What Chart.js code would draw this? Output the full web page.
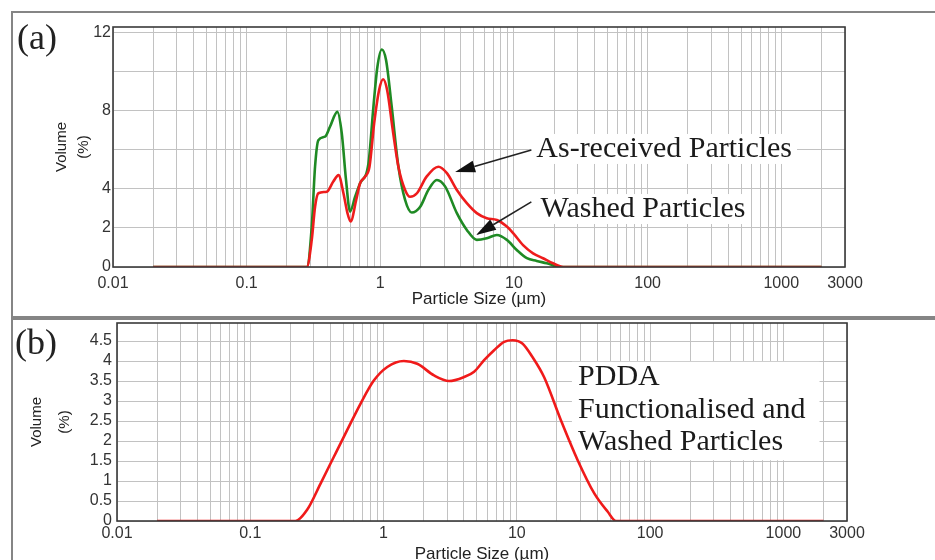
<!DOCTYPE html>
<html>
<head>
<meta charset="utf-8">
<script src="https://cdn.jsdelivr.net/npm/chart.js@4.4.0/dist/chart.umd.min.js"></script>
<style>
  html,body{margin:0;padding:0;background:#fff;}
  body{width:935px;height:560px;overflow:hidden;position:relative;font-family:"Liberation Sans",Arial,sans-serif;}
  .frame{position:absolute;border:2px solid #858585;border-right:none;box-sizing:border-box;}
  #frameA{left:11px;top:11px;width:940px;height:307px;}
  #frameB{left:11px;top:318px;width:940px;height:260px;border-bottom:none;}
  .plabel{position:absolute;font-family:"Liberation Serif","Times New Roman",serif;font-size:36px;line-height:36px;color:#222;}
  #labA{left:17px;top:19px;}
  #labB{left:15px;top:324px;}
  #wrapA{position:absolute;left:0;top:0;}
  #wrapB{position:absolute;left:0;top:307px;}
</style>
</head>
<body>
<div class="frame" id="frameA"></div>
<div class="frame" id="frameB"></div>
<div id="wrapA"><canvas id="chartA" width="935" height="317"></canvas></div>
<div id="wrapB"><canvas id="chartB" width="935" height="260"></canvas></div>
<div class="plabel" id="labA">(a)</div>
<div class="plabel" id="labB">(b)</div>
<script>
// ---------------- data ----------------
const asReceivedSize = [0.02, 0.282, 0.307, 0.325, 0.344, 0.398, 0.445, 0.487, 0.53, 0.568,
  0.60, 0.66, 0.706, 0.77, 0.83, 0.90, 0.98, 1.05, 1.125, 1.24,
  1.366, 1.533, 1.67, 1.88, 2.22, 2.72, 3.15, 3.74, 4.44, 5.27,
  6.26, 7.45, 8.85, 9.9, 11.7, 13.9, 16.5, 19.6, 23.4, 2000];
const asReceivedVolume = [0, 0, 1.39, 3.09, 3.78, 3.86, 4.38, 4.71, 3.78, 2.76,
  2.33, 3.44, 4.29, 4.63, 5.14, 7.37, 9.07, 9.62, 9.07, 7.02,
  5.14, 3.95, 3.60, 3.78, 4.63, 5.14, 4.81, 3.95, 3.27, 2.76,
  2.50, 2.41, 2.07, 1.72, 1.12, 0.70, 0.45, 0.19, 0, 0];

const washedSize = [0.02, 0.282, 0.307, 0.325, 0.344, 0.386, 0.421, 0.477, 0.515, 0.554,
  0.594, 0.648, 0.706, 0.815, 0.888, 0.951, 1.026, 1.105, 1.218, 1.366,
  1.533, 1.72, 1.99, 2.29, 2.65, 3.06, 3.74, 4.44, 5.27, 6.26,
  7.45, 8.85, 10.5, 12.5, 14.8, 17.6, 22.2, 2000];
const washedVolume = [0, 0, 2.07, 5.15, 6.50, 6.68, 7.20, 7.95, 6.85, 4.46,
  2.84, 3.60, 4.29, 5.30, 8.20, 10.25, 11.15, 10.6, 8.20, 5.15,
  3.44, 2.79, 3.09, 3.95, 4.46, 4.12, 2.76, 1.90, 1.39, 1.47,
  1.64, 1.39, 0.87, 0.45, 0.31, 0.19, 0, 0];

const pddaSize = [0.02, 0.218, 0.267, 0.336, 0.423, 0.533, 0.671, 0.845, 1.066, 1.42,
  1.79, 2.39, 3.1, 4.02, 4.78, 5.68, 6.75, 8.03, 9.29, 11.0,
  13.1, 16.0, 21.4, 28.6, 38.1, 48.1, 55.5, 2000];
const pddaVolume = [0, 0, 0.28, 0.93, 1.6, 2.27, 2.93, 3.51, 3.85, 4.0,
  3.93, 3.64, 3.5, 3.6, 3.73, 4.02, 4.27, 4.48, 4.52, 4.44,
  4.1, 3.6, 2.52, 1.52, 0.69, 0.23, 0, 0];

// ---------------- tick labels ----------------
const xTickLabels = [0.01, 0.1, 1, 10, 100, 1000, 3000];
const xDecades = [0.01, 0.1, 1, 10, 100, 1000];
const xMultipliers = [1, 2, 3, 4, 5, 6, 7, 8, 9];
const yTicksA = [0, 2, 4, 6, 8, 10, 12];
const yLabelsA = [0, 2, 4, 8, 12];
const yTicksB = [0, 0.5, 1, 1.5, 2, 2.5, 3, 3.5, 4, 4.5];

// ---------------- helpers ----------------
const X_MIN = 0.01, X_MAX = 3000;
const xGridValues = [];
xDecades.forEach(d => xMultipliers.forEach(m => {
  const v = +(d * m).toPrecision(6);
  if (v <= X_MAX && !xGridValues.includes(v)) xGridValues.push(v);
}));
if (!xGridValues.includes(X_MAX)) xGridValues.push(X_MAX);
const near = (a, b) => Math.abs(a - b) <= 1e-9 * Math.max(1, Math.abs(b));
const toPoints = (xs, ys) => xs.map((v, i) => ({x: v, y: ys[i]}));

const SANS = "'Liberation Sans', Arial, sans-serif";
const SERIF = "'Liberation Serif', 'Times New Roman', serif";
const GRID = '#c2c2c2';

const decor = {
  id: 'decor',
  beforeDatasetsDraw(chart, args, o) {
    const {ctx, scales: {x, y}} = chart;
    ctx.save();
    ctx.fillStyle = '#fff';
    (o.boxes || []).forEach(b => {
      const x0 = x.getPixelForValue(b.x0), x1 = x.getPixelForValue(b.x1);
      const y0 = y.getPixelForValue(b.y0), y1 = y.getPixelForValue(b.y1);
      ctx.fillRect(Math.min(x0, x1), Math.min(y0, y1), Math.abs(x1 - x0), Math.abs(y1 - y0));
    });
    ctx.font = o.font;
    (o.texts || []).forEach(t => {
      if (!t.bg) return;
      const px = x.getPixelForValue(t.x), py = y.getPixelForValue(t.y);
      const w = ctx.measureText(t.text).width;
      ctx.fillRect(px - 5, py - 15, w + 10, 30);
    });
    ctx.restore();
  },
  afterDatasetsDraw(chart, args, o) {
    const {ctx, scales: {x, y}} = chart;
    ctx.save();
    ctx.font = o.font;
    ctx.textBaseline = 'middle';
    ctx.textAlign = 'left';
    ctx.fillStyle = '#1b1b1b';
    (o.texts || []).forEach(t => {
      ctx.fillText(t.text, x.getPixelForValue(t.x), y.getPixelForValue(t.y));
    });
    (o.arrows || []).forEach(a => {
      const fx = x.getPixelForValue(a.from[0]), fy = y.getPixelForValue(a.from[1]);
      const tx = x.getPixelForValue(a.to[0]), ty = y.getPixelForValue(a.to[1]);
      const ang = Math.atan2(ty - fy, tx - fx);
      const L = 20, W = 6;
      const bx = tx - L * Math.cos(ang), by = ty - L * Math.sin(ang);
      ctx.strokeStyle = '#222';
      ctx.lineWidth = 1.6;
      ctx.beginPath(); ctx.moveTo(fx, fy); ctx.lineTo(bx, by); ctx.stroke();
      ctx.fillStyle = '#111';
      ctx.beginPath();
      ctx.moveTo(tx, ty);
      ctx.lineTo(bx + W * Math.sin(ang), by - W * Math.cos(ang));
      ctx.lineTo(bx - W * Math.sin(ang), by + W * Math.cos(ang));
      ctx.closePath(); ctx.fill();
    });
    ctx.restore();
  },
  afterDraw(chart) {
    const {ctx, chartArea: c} = chart;
    ctx.save();
    ctx.strokeStyle = '#3a3a3a';
    ctx.lineWidth = 1.6;
    ctx.strokeRect(c.left, c.top, c.right - c.left, c.bottom - c.top);
    ctx.restore();
  }
};

function xScale(axisHeight, tickPad, titleBottomPad) {
  return {
    type: 'logarithmic', min: X_MIN, max: X_MAX,
    afterFit: s => { s.height = axisHeight; },
    afterBuildTicks: s => { s.ticks = xGridValues.map(v => ({value: v})); },
    border: {display: false},
    grid: {color: GRID, lineWidth: 1, drawTicks: false},
    ticks: {
      autoSkip: false, maxRotation: 0, padding: tickPad,
      color: '#333', font: {family: SANS, size: 16},
      callback: v => { const l = xTickLabels.find(t => near(v, t)); return l === undefined ? '' : String(l); }
    },
    title: {display: true, text: 'Particle Size (µm)', color: '#222',
      font: {family: SANS, size: 17, lineHeight: 1.2}, padding: {top: 0, bottom: titleBottomPad}}
  };
}

function yScale(width, max, ticks, labels, tickPad, titleLine, titlePadTop) {
  return {
    type: 'linear', min: 0, max: max,
    afterFit: s => { s.width = width; },
    afterBuildTicks: s => { s.ticks = ticks.map(v => ({value: v})); },
    border: {display: false},
    grid: {color: GRID, lineWidth: 1, drawTicks: false},
    ticks: {
      autoSkip: false, padding: tickPad, color: '#333', font: {family: SANS, size: 16},
      callback: v => labels.some(l => near(v, l)) ? String(v) : ''
    },
    title: {display: true, text: ['Volume', '(%)'], color: '#222',
      font: {family: SANS, size: 15, lineHeight: titleLine}, padding: {top: titlePadTop, bottom: 0}}
  };
}

const commonPlugins = {legend: {display: false}, tooltip: {enabled: false}};

new Chart(document.getElementById('chartA'), {
  type: 'line',
  data: {
    datasets: [
      {label: 'As-received Particles', data: toPoints(asReceivedSize, asReceivedVolume),
       borderColor: '#ee1c1c', borderWidth: 2.6, pointRadius: 0, cubicInterpolationMode: 'monotone', fill: false},
      {label: 'Washed Particles', data: toPoints(washedSize, washedVolume),
       borderColor: '#1f8a24', borderWidth: 2.6, pointRadius: 0, cubicInterpolationMode: 'monotone', fill: false}
    ]
  },
  options: {
    responsive: false, animation: false,
    layout: {padding: {left: 0, top: 27, right: 90, bottom: 0}},
    scales: {
      x: xScale(50, 7, 7),
      y: yScale(113, 12.3, yTicksA, yLabelsA, 2, 22 / 15, 51)
    },
    plugins: Object.assign({}, commonPlugins, {
      decor: {
        font: "30px " + SERIF,
        texts: [
          {text: 'As-received Particles', x: 14.7, y: 6.05, bg: true},
          {text: 'Washed Particles', x: 15.8, y: 2.97, bg: true}
        ],
        arrows: [
          {from: [13.5, 6.0], to: [3.63, 4.87]},
          {from: [13.5, 3.34], to: [5.21, 1.64]}
        ]
      }
    })
  },
  plugins: [decor]
});

new Chart(document.getElementById('chartB'), {
  type: 'line',
  data: {
    datasets: [
      {label: 'PDDA Functionalised and Washed Particles', data: toPoints(pddaSize, pddaVolume),
       borderColor: '#f01a1a', borderWidth: 2.6, pointRadius: 0, cubicInterpolationMode: 'monotone', fill: false}
    ]
  },
  options: {
    responsive: false, animation: false,
    layout: {padding: {left: 0, top: 16, right: 88, bottom: 0}},
    scales: {
      x: xScale(46, 3, 2),
      y: yScale(117, 4.95, yTicksB, yTicksB, 5, 28 / 15, 23)
    },
    plugins: Object.assign({}, commonPlugins, {
      decor: {
        font: "30px " + SERIF,
        boxes: [{x0: 25.9, x1: 1866, y0: 3.98, y1: 1.52}],
        texts: [
          {text: 'PDDA', x: 28.8, y: 3.59},
          {text: 'Functionalised and', x: 28.8, y: 2.77},
          {text: 'Washed Particles', x: 28.8, y: 1.97}
        ]
      }
    })
  },
  plugins: [decor]
});
</script>
</body>
</html>
